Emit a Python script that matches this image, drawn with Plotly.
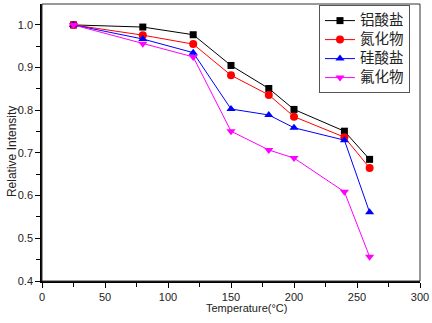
import plotly.graph_objects as go

temps = [25, 80, 120, 150, 180, 200, 240, 260]
aluminate = [1.0, 0.995, 0.977, 0.905, 0.851, 0.802, 0.751, 0.685]
nitride = [1.0, 0.976, 0.955, 0.882, 0.836, 0.785, 0.737, 0.665]
silicate = [1.0, 0.967, 0.935, 0.803, 0.789, 0.759, 0.730, 0.561]
fluoride = [1.0, 0.956, 0.925, 0.751, 0.707, 0.688, 0.609, 0.457]

names = ["铝酸盐", "氮化物", "硅酸盐", "氟化物"]
series = [aluminate, nitride, silicate, fluoride]
colors = ["#000000", "#ff0000", "#0000ff", "#ff00ff"]
symbols = ["square", "circle", "triangle-up", "triangle-down"]
sizes = [7, 8, 8, 8]

fig = go.Figure()
for n, s, c, sym, sz in zip(names, series, colors, symbols, sizes):
    fig.add_trace(go.Scatter(x=temps, y=s, name='<span style="font-size:14.5px">%s</span>' % n,
                             mode="lines+markers",
                             line=dict(color=c, width=1),
                             marker=dict(symbol=sym, color=c, size=sz)))

axis_common = dict(showgrid=False, zeroline=False, ticks="outside", ticklen=5,
                   tickwidth=1, tickcolor="black", linecolor="black", linewidth=1.5,
                   mirror=False, showline=True,
                   tickfont=dict(family="Liberation Sans, Arial", size=11, color="#222"))

fig.update_layout(
    width=432, height=323,
    margin=dict(l=42, r=12, t=4, b=42),
    paper_bgcolor="white", plot_bgcolor="white",
    xaxis=dict(range=[0, 300], tickvals=[0, 50, 100, 150, 200, 250, 300],
               minor=dict(tickvals=[25, 75, 125, 175, 225, 275], ticks="outside", ticklen=4, tickcolor="black"),
               **axis_common),
    yaxis=dict(range=[0.4, 1.049], tickvals=[0.4, 0.5, 0.6, 0.7, 0.8, 0.9, 1.0], tickformat=".1f",
               minor=dict(tickvals=[0.45, 0.55, 0.65, 0.75, 0.85, 0.95], ticks="outside", ticklen=4, tickcolor="black"),
               **axis_common),
    legend=dict(x=0.9735, y=0.996, xanchor="right", yanchor="top",
                bordercolor="#555", borderwidth=1, bgcolor="white",
                font=dict(family="Noto Sans CJK SC", size=12, color="#222"),
                tracegroupgap=0, itemwidth=30),
    showlegend=True,
    annotations=[
        dict(text="Temperature(°C)", xref="paper", yref="paper", x=0.542, y=-0.0975,
             xanchor="center", yanchor="middle", showarrow=False,
             font=dict(family="Liberation Sans, Arial", size=11, color="#222")),
        dict(text="Relative Intensity", xref="paper", yref="paper", x=-0.079, y=0.466,
             xanchor="center", yanchor="middle", showarrow=False, textangle=-90,
             font=dict(family="Liberation Sans, Arial", size=12, color="#222")),
    ],
)
fig.add_shape(type="rect", xref="paper", yref="paper", x0=0, y0=0, x1=1, y1=1,
              line=dict(color="#333", width=1), layer="above")

fig.write_html("out.html")
